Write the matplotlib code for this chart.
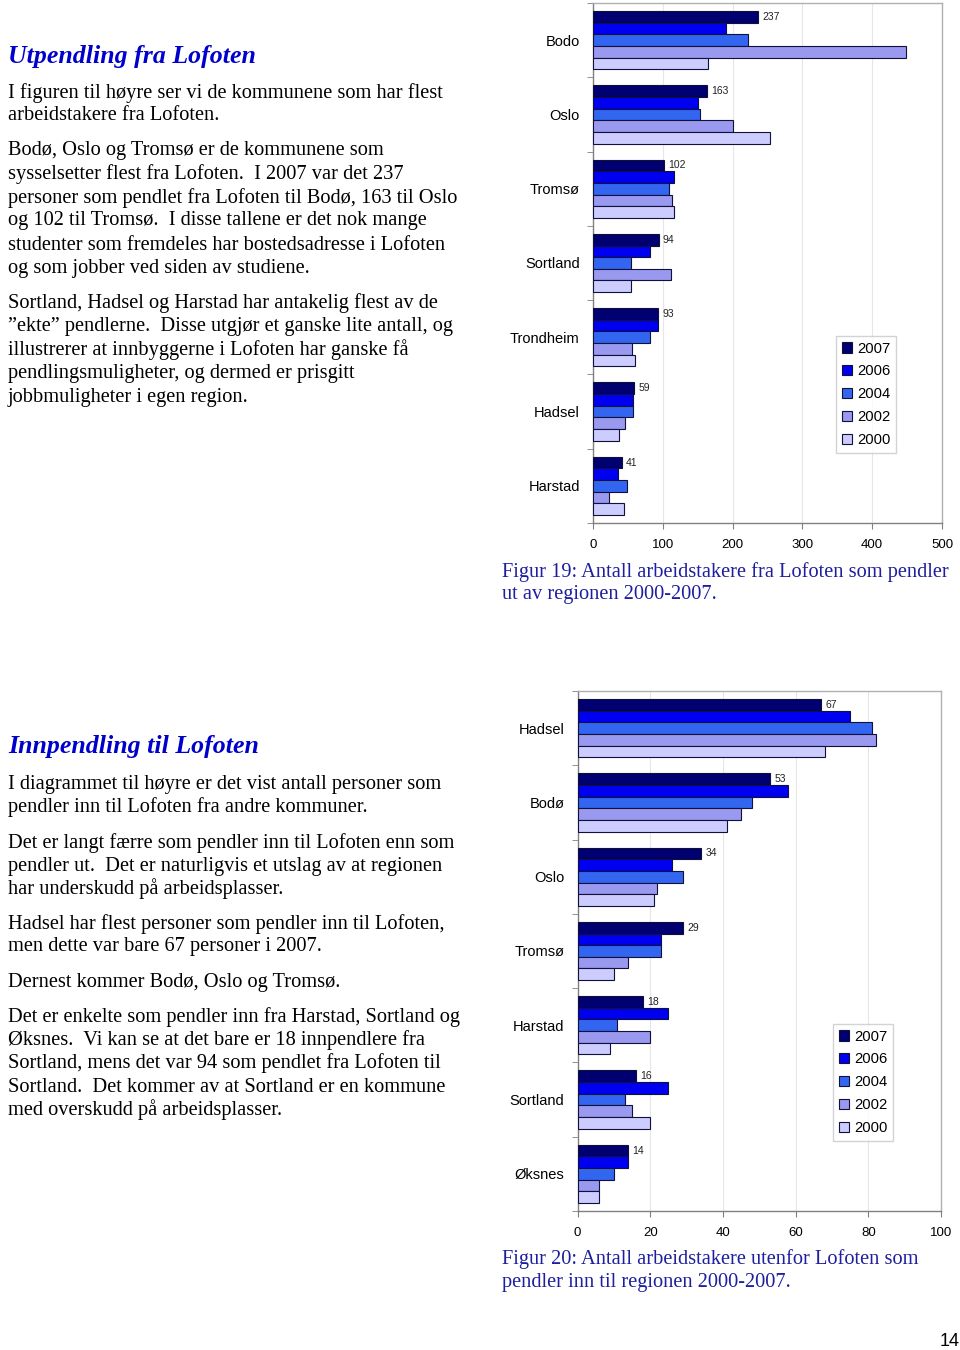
import matplotlib
matplotlib.use("Agg")
import matplotlib.pyplot as plt
from matplotlib.patches import Patch

# ---------------- data ----------------
years = ["2007", "2006", "2004", "2002", "2000"]

out_categories = ["Bodo", "Oslo", "Tromsø", "Sortland", "Trondheim", "Hadsel", "Harstad"]
out_2007 = [237, 163, 102, 94, 93, 59, 41]
out_2006 = [190, 151, 116, 82, 93, 58, 36]
out_2004 = [222, 153, 109, 54, 82, 58, 48]
out_2002 = [449, 200, 113, 112, 56, 46, 23]
out_2000 = [165, 253, 116, 54, 60, 37, 45]
out_ticks = [0, 100, 200, 300, 400, 500]

in_categories = ["Hadsel", "Bodø", "Oslo", "Tromsø", "Harstad", "Sortland", "Øksnes"]
in_2007 = [67, 53, 34, 29, 18, 16, 14]
in_2006 = [75, 58, 26, 23, 25, 25, 14]
in_2004 = [81, 48, 29, 23, 11, 13, 10]
in_2002 = [82, 45, 22, 14, 20, 15, 6]
in_2000 = [68, 41, 21, 10, 9, 20, 6]
in_ticks = [0, 20, 40, 60, 80, 100]

colors = ["#000070", "#0000F0", "#3366F0", "#9999F0", "#CCCCFF"]
edge = "#10103A"

W, H = 960, 1350
fig = plt.figure(figsize=(W / 100, H / 100), dpi=100)
fig.patch.set_facecolor("white")

SANS = ["Liberation Sans", "DejaVu Sans"]
SERIF = ["Liberation Serif", "DejaVu Serif"]


def fy(y):
    return 1 - y / H


def fx(x):
    return x / W


def draw_chart(rect_px, cats, series, ticks, xmax, legend_xy):
    l, t, r, b = rect_px
    ax = fig.add_axes([fx(l), fy(b), (r - l) / W, (b - t) / H])
    n = len(cats)
    h = 0.157
    for j, vals in enumerate(series):
        ys = [i + (j - 2) * h for i in range(n)]
        ax.barh(ys, vals, height=h, color=colors[j], edgecolor=edge,
                linewidth=0.8, zorder=3, label=years[j])
    for i, v in enumerate(series[0]):
        ax.annotate(str(v), (v, i - 2 * h), xytext=(3, 0), textcoords="offset points",
                    va="center", ha="left", fontsize=7.5, family=SANS, color="#222222")
    ax.set_ylim(n - 0.5, -0.5)
    ax.set_xlim(0, xmax)
    ax.set_yticks(range(n))
    ax.set_yticklabels(cats, family=SANS, fontsize=10.5)
    ax.set_yticks([i - 0.5 for i in range(n + 1)], minor=True)
    ax.tick_params(axis="y", which="major", length=0, pad=9.5)
    ax.tick_params(axis="y", which="minor", length=4, color="#808080", direction="out")
    ax.set_xticks(ticks)
    ax.set_xticklabels([str(t_) for t_ in ticks], family=SANS, fontsize=9.5)
    ax.tick_params(axis="x", length=4, color="#808080", pad=7.5)
    ax.xaxis.grid(True, color="#e6e6e6", linewidth=0.8, zorder=0)
    ax.set_axisbelow(True)
    for s in ["left", "bottom"]:
        ax.spines[s].set_color("#808080")
        ax.spines[s].set_linewidth(1.0)
    for s in ["top", "right"]:
        ax.spines[s].set_color("#b0b0b0")
        ax.spines[s].set_linewidth(1.0)
    handles = [Patch(facecolor=colors[j], edgecolor=edge, linewidth=0.8, label=years[j])
               for j in range(5)]
    leg = fig.legend(handles=handles, loc="upper left",
                     bbox_to_anchor=(fx(legend_xy[0]), fy(legend_xy[1])),
                     bbox_transform=fig.transFigure,
                     prop={"family": SANS, "size": 10.6}, frameon=True, fancybox=False,
                     handlelength=0.7, handleheight=0.7, handletextpad=0.35,
                     labelspacing=0.6, borderpad=0.38, borderaxespad=0)
    leg.get_frame().set_edgecolor("#c8c8c8")
    leg.get_frame().set_linewidth(1.0)
    return ax


draw_chart((593, 3, 942, 523), out_categories,
           [out_2007, out_2006, out_2004, out_2002, out_2000], out_ticks, 500, (836, 336))
draw_chart((577.5, 691, 941, 1211), in_categories,
           [in_2007, in_2006, in_2004, in_2002, in_2000], in_ticks, 100, (833, 1024))

# ---------------- text ----------------
TITLE_C = "#0000CC"
CAP_C = "#1E1E9E"
BODY_FS = 14.7
CAP_FS = 14.7


def ptext(x, y, s, **kw):
    fig.text(fx(x), fy(y), s, va="center", ha="left", **kw)


ptext(8, 56, "Utpendling fra Lofoten", family=SERIF, fontsize=18.6, fontweight="bold",
      fontstyle="italic", color=TITLE_C)
top_lines = [
    (93, "I figuren til høyre ser vi de kommunene som har flest"),
    (116, "arbeidstakere fra Lofoten."),
    (151, "Bodø, Oslo og Tromsø er de kommunene som"),
    (174, "sysselsetter flest fra Lofoten.  I 2007 var det 237"),
    (198, "personer som pendlet fra Lofoten til Bodø, 163 til Oslo"),
    (221, "og 102 til Tromsø.  I disse tallene er det nok mange"),
    (245, "studenter som fremdeles har bostedsadresse i Lofoten"),
    (268, "og som jobber ved siden av studiene."),
    (303, "Sortland, Hadsel og Harstad har antakelig flest av de"),
    (327, "\u201dekte\u201d pendlerne.  Disse utgjør et ganske lite antall, og"),
    (350, "illustrerer at innbyggerne i Lofoten har ganske få"),
    (374, "pendlingsmuligheter, og dermed er prisgitt"),
    (397, "jobbmuligheter i egen region."),
]
for y, s in top_lines:
    ptext(8, y, s, family=SERIF, fontsize=BODY_FS, color="black")

ptext(8, 747, "Innpendling til Lofoten", family=SERIF, fontsize=18.6, fontweight="bold",
      fontstyle="italic", color=TITLE_C)
bottom_lines = [
    (784, "I diagrammet til høyre er det vist antall personer som"),
    (807, "pendler inn til Lofoten fra andre kommuner."),
    (843, "Det er langt færre som pendler inn til Lofoten enn som"),
    (866, "pendler ut.  Det er naturligvis et utslag av at regionen"),
    (889, "har underskudd på arbeidsplasser."),
    (924, "Hadsel har flest personer som pendler inn til Lofoten,"),
    (947, "men dette var bare 67 personer i 2007."),
    (982, "Dernest kommer Bodø, Oslo og Tromsø."),
    (1017, "Det er enkelte som pendler inn fra Harstad, Sortland og"),
    (1040, "Øksnes.  Vi kan se at det bare er 18 innpendlere fra"),
    (1063, "Sortland, mens det var 94 som pendlet fra Lofoten til"),
    (1087, "Sortland.  Det kommer av at Sortland er en kommune"),
    (1110, "med overskudd på arbeidsplasser."),
]
for y, s in bottom_lines:
    ptext(8, y, s, family=SERIF, fontsize=BODY_FS, color="black")

ptext(502, 572, "Figur 19: Antall arbeidstakere fra Lofoten som pendler", family=SERIF,
      fontsize=CAP_FS, color=CAP_C)
ptext(502, 595, "ut av regionen 2000-2007.", family=SERIF, fontsize=CAP_FS, color=CAP_C)
ptext(502, 1259, "Figur 20: Antall arbeidstakere utenfor Lofoten som", family=SERIF,
      fontsize=CAP_FS, color=CAP_C)
ptext(502, 1282, "pendler inn til regionen 2000-2007.", family=SERIF, fontsize=CAP_FS, color=CAP_C)

fig.text(fx(960), fy(1341), "14", va="center", ha="right", family=SANS, fontsize=13,
         color="black")

fig.savefig("out.png", dpi=100, facecolor="white")
